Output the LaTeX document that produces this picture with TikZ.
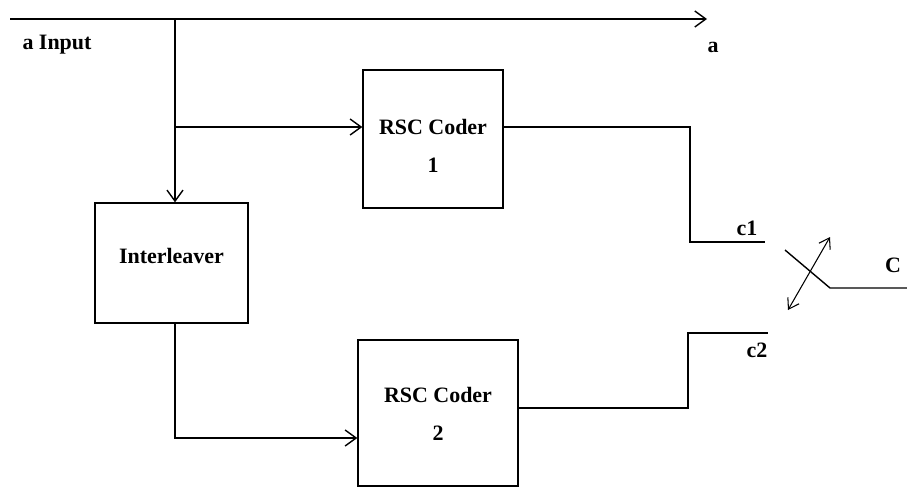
\documentclass[tikz,border=0pt]{standalone}
\usepackage{fontspec}
\setmainfont{Liberation Serif}
\usepackage{tikz}
\usetikzlibrary{arrows.meta,positioning,calc}

\begin{document}
\begin{tikzpicture}[
			x=0.02cm,y=-0.02cm,
			blk/.style={draw=black,line width=0.8pt,align=center,font=\fontsize{12.5}{21.5}\selectfont\bfseries,inner sep=0pt},
			lbl/.style={font=\fontsize{12.5}{15}\selectfont\bfseries,inner sep=0pt},
			wire/.style={line width=0.8pt,black},
			flow/.style={wire,-{Straight Barb[length=2.2mm,width=3.2mm]}},
			swarr/.style={line width=0.6pt,{Straight Barb[length=2mm,width=2.6mm]}-{Straight Barb[length=2mm,width=2.6mm]}}
			]
			\useasboundingbox (0,0) rectangle (907,487);
			% blocks
			\node[blk,minimum width=2.8cm,minimum height=2.76cm] (rsc1) at (433,139) {};
			\node[blk,minimum width=3.06cm,minimum height=2.4cm] (inter) at (171.5,263) {};
			\node[blk,minimum width=3.2cm,minimum height=2.92cm] (rsc2) at (438,413) {};
			\node[lbl,align=center,font=\fontsize{12.5}{21.5}\selectfont\bfseries] (t1) at (433,146) {RSC Coder\\ 1};
			\node[lbl] (ti) at (171.5,256) {Interleaver};
			\node[lbl,align=center,font=\fontsize{12.5}{21.5}\selectfont\bfseries] (t2) at (438,414) {RSC Coder\\ 2};
			% input line
			\coordinate (start) at (10,19);
			\coordinate (aout) at (707,19);
			\coordinate (split) at (175,19);
			\coordinate (br) at (175,127);
			\coordinate (down) at (175,438);
			\draw[flow] (start) -- (aout);
			\node[lbl] (ain) at (57,45) {a Input};
			\node[lbl] (alab) at (713,47) {a};
			\draw[flow] (split) -- (split |- inter.north);
			\draw[flow] (br) -- (br -| rsc1.west);
			\draw[flow] (split |- inter.south) -- (down) -- (down -| rsc2.west);
			% outputs
			\coordinate (c1a) at (690,242);
			\coordinate (c1end) at (765,242);
			\coordinate (c2a) at (688,333);
			\coordinate (c2end) at (768,333);
			\draw[wire] (rsc1.east |- br) -| (c1a) -- (c1end);
			\draw[wire] ($(rsc2.east)+(0,-5)$) -| (c2a) -- (c2end);
			\node[lbl] (c1) at (747,228) {c1};
			\node[lbl] (c2) at (757,350) {c2};
			% switch
			\coordinate (sw1) at (785,250);
			\coordinate (sw2) at (830,288);
			\coordinate (cout) at (907,288);
			\coordinate (arrA) at (788,310);
			\coordinate (arrB) at (830,237);
			\draw[wire] (sw1) -- (sw2) -- (cout);
			\draw[swarr] (arrA) -- (arrB);
			\node[lbl] (cbig) at (893,265) {C};
		\end{tikzpicture}
\end{document}
